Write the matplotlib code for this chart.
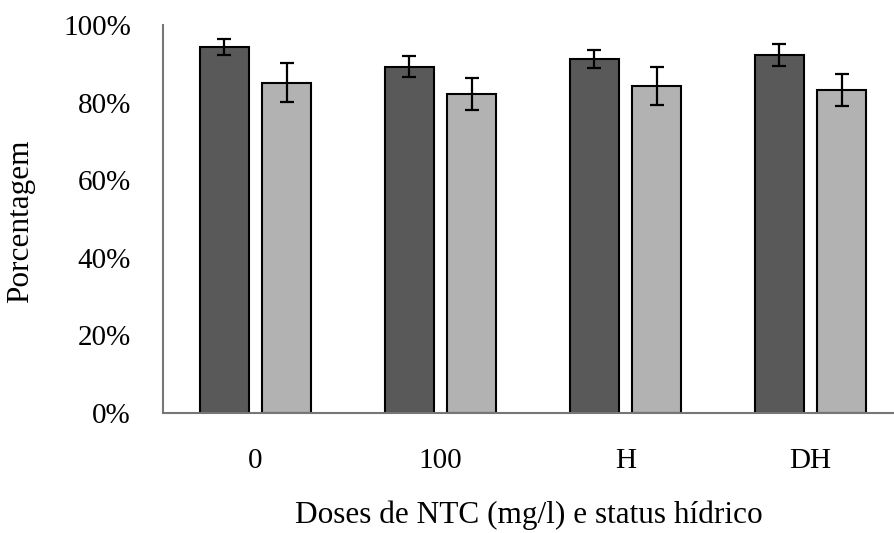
import matplotlib
matplotlib.use("Agg")
import matplotlib.pyplot as plt
import numpy as np
from matplotlib.ticker import FuncFormatter

categories = ["0", "100", "H", "DH"]
serie_a = [94.4, 89.3, 91.3, 92.2]
erro_a = [2.1, 2.7, 2.3, 2.8]
serie_b = [85.1, 82.2, 84.3, 83.2]
erro_b = [5.0, 4.1, 5.0, 4.2]
yticks = [0, 20, 40, 60, 80, 100]

plt.rcParams['font.family'] = ['Liberation Serif', 'DejaVu Serif']
FS_TICK = 21
FS_LAB = 22.5

fig = plt.figure(figsize=(8.95, 5.33), dpi=100)
ax = fig.add_axes([163/895, 1-413/533, 740/895, (413-25)/533])

x = np.arange(len(categories))
w = 0.268
off = 0.168
ekw = dict(ecolor="black", elinewidth=1.6, capsize=5, capthick=1.6)
ax.bar(x - off, serie_a, w, color="#595959", edgecolor="black", linewidth=1.5,
       yerr=erro_a, error_kw=ekw, zorder=2)
ax.bar(x + off, serie_b, w, color="#b2b2b2", edgecolor="black", linewidth=1.5,
       yerr=erro_b, error_kw=ekw, zorder=2)

ax.set_xlim(-0.5, len(categories) - 0.5)
ax.set_ylim(0, 100)
ax.set_yticks(yticks)
ax.yaxis.set_major_formatter(FuncFormatter(lambda v, p: f"{int(v)}%"))
ax.set_xticks(x)
ax.set_xticklabels(categories)
ax.tick_params(axis='both', length=0, labelsize=FS_TICK)
ax.tick_params(axis='y', pad=23)
ax.tick_params(axis='x', pad=25)

for s in ["top", "right"]:
    ax.spines[s].set_visible(False)
for s in ["left", "bottom"]:
    ax.spines[s].set_color("#767676")
    ax.spines[s].set_linewidth(1.5)

ax.set_ylabel("Porcentagem", fontsize=FS_LAB)
ax.set_xlabel("Doses de NTC (mg/l) e status hídrico", fontsize=FS_LAB)
ax.yaxis.set_label_coords(-0.173, 0.495)
ax.xaxis.set_label_coords(0.495, -0.2268)

fig.savefig("out.png", dpi=100)
